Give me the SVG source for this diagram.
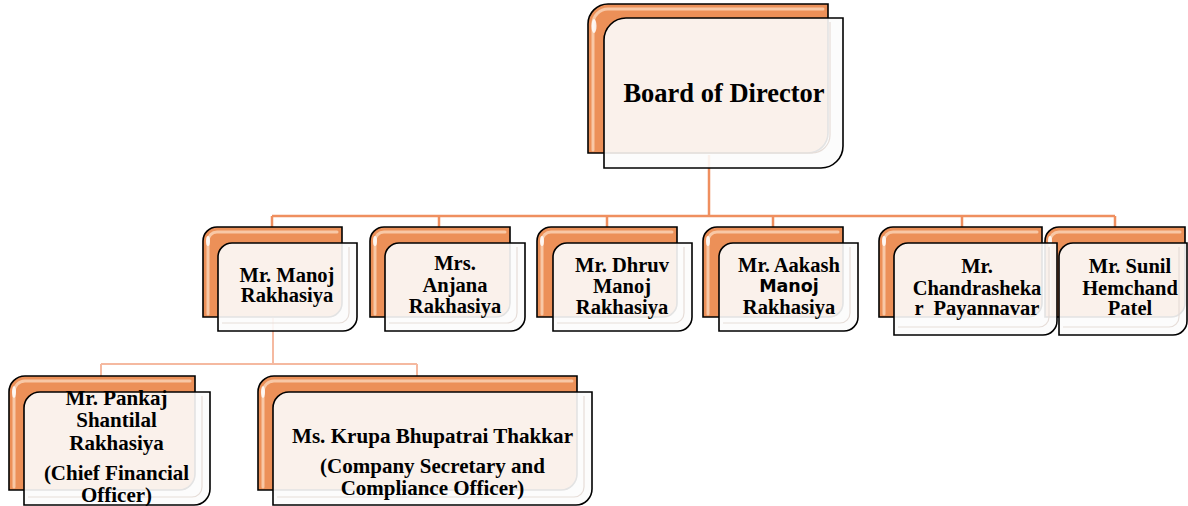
<svg xmlns="http://www.w3.org/2000/svg" width="1188" height="506" viewBox="0 0 1188 506">
<style>
.back{fill:#EC9058;stroke:#000;stroke-width:1.6}
.bhi{fill:none;stroke:#F8C8A6;stroke-width:3;stroke-linecap:round}
.front{fill:#FCFCFC;fill-opacity:0.9;stroke:#000;stroke-width:1.6}
.fhi{fill:none;stroke:#E6DDD8;stroke-width:1.2}
.gloss{fill:#FFFFFF;opacity:0.85}
.t{font-family:"Liberation Serif","Times New Roman",serif;font-weight:bold;font-size:20.5px;text-anchor:middle;fill:#000}
.s{font-size:21px}
.sans{font-family:"DejaVu Sans","Liberation Sans",sans-serif;font-size:17.5px}
.c1{fill:none;stroke:#EF8F5F;stroke-width:2.5}
.c2{fill:none;stroke:#F5B9A0;stroke-width:2}
</style>
<rect width="1188" height="506" fill="#FFFFFF"/>
<g id="connectors">
<path class="c1" d="M709,155 V216 M272,216 H1115 M272,216 V227 M439,216 V227 M607,216 V227 M773,216 V227 M962,216 V227 M1115,216 V227"/>
<path class="c2" d="M273,318 V364 M101,364 H417 M101,364 V376 M417,364 V376"/>
</g>
<g id="board">
<path class="back" d="M588,153 V24 A20,20 0 0 1 608,4 H828 V133 A20,20 0 0 1 808,153 Z"/>
<path class="bhi" d="M593,150 V24 A15,15 0 0 1 608,9 H823"/>
<ellipse class="gloss" cx="594" cy="26" rx="2.5" ry="7"/>
<path class="front" d="M604,168 V40 A22,22 0 0 1 626,18 H843 V146 A22,22 0 0 1 821,168 Z"/>
<path class="fhi" d="M830,22 V135 A18,18 0 0 1 812,153 H610"/>
<text class="t" x="724" y="102" style="font-size:26.5px">Board of Director</text>
</g>
<g id="manoj">
<path class="back" d="M203,317 V241 A14,14 0 0 1 217,227 H342 V303 A14,14 0 0 1 328,317 Z"/>
<path class="bhi" d="M208,314 V241 A9,9 0 0 1 217,232 H337"/>
<ellipse class="gloss" cx="208" cy="241" rx="2" ry="5"/>
<path class="front" d="M218,331 V257 A14,14 0 0 1 232,243 H357 V317 A14,14 0 0 1 343,331 Z"/>
<path class="fhi" d="M349,247 V313 A10,10 0 0 1 339,323 H222"/>
<text class="t" x="287" y="282">Mr. Manoj</text>
<text class="t" x="287" y="302">Rakhasiya</text>
</g>
<g id="anjana">
<path class="back" d="M370,317 V241 A14,14 0 0 1 384,227 H510 V303 A14,14 0 0 1 496,317 Z"/>
<path class="bhi" d="M375,314 V241 A9,9 0 0 1 384,232 H505"/>
<ellipse class="gloss" cx="375" cy="241" rx="2" ry="5"/>
<path class="front" d="M385,331 V257 A14,14 0 0 1 399,243 H525 V317 A14,14 0 0 1 511,331 Z"/>
<path class="fhi" d="M517,247 V313 A10,10 0 0 1 507,323 H389"/>
<text class="t" x="455" y="270">Mrs.</text>
<text class="t" x="455" y="292">Anjana</text>
<text class="t" x="455" y="313">Rakhasiya</text>
</g>
<g id="dhruv">
<path class="back" d="M537,317 V241 A14,14 0 0 1 551,227 H677 V303 A14,14 0 0 1 663,317 Z"/>
<path class="bhi" d="M542,314 V241 A9,9 0 0 1 551,232 H672"/>
<ellipse class="gloss" cx="542" cy="241" rx="2" ry="5"/>
<path class="front" d="M553,331 V257 A14,14 0 0 1 567,243 H692 V317 A14,14 0 0 1 678,331 Z"/>
<path class="fhi" d="M684,247 V313 A10,10 0 0 1 674,323 H557"/>
<text class="t" x="622" y="272">Mr. Dhruv</text>
<text class="t" x="622" y="293">Manoj</text>
<text class="t" x="622" y="314">Rakhasiya</text>
</g>
<g id="aakash">
<path class="back" d="M703,317 V241 A14,14 0 0 1 717,227 H843 V303 A14,14 0 0 1 829,317 Z"/>
<path class="bhi" d="M708,314 V241 A9,9 0 0 1 717,232 H838"/>
<ellipse class="gloss" cx="708" cy="241" rx="2" ry="5"/>
<path class="front" d="M719,331 V257 A14,14 0 0 1 733,243 H858 V317 A14,14 0 0 1 844,331 Z"/>
<path class="fhi" d="M850,247 V313 A10,10 0 0 1 840,323 H723"/>
<text class="t" x="789" y="272">Mr. Aakash</text>
<text class="t sans" x="789" y="292">Manoj</text>
<text class="t" x="789" y="314">Rakhasiya</text>
</g>
<g id="sunil">
<path class="back" d="M1045,317 V241 A14,14 0 0 1 1059,227 H1185 V303 A14,14 0 0 1 1171,317 Z"/>
<path class="bhi" d="M1050,314 V241 A9,9 0 0 1 1059,232 H1180"/>
<ellipse class="gloss" cx="1050" cy="241" rx="2" ry="5"/>
<path class="front" d="M1059,335 V257 A14,14 0 0 1 1073,243 H1187 V321 A14,14 0 0 1 1173,335 Z"/>
<path class="fhi" d="M1179,247 V317 A10,10 0 0 1 1169,327 H1063"/>
<text class="t" x="1130" y="273">Mr. Sunil</text>
<text class="t" x="1130" y="295">Hemchand</text>
<text class="t" x="1130" y="315">Patel</text>
</g>
<g id="chandrashekar">
<path class="back" d="M879,317 V241 A14,14 0 0 1 893,227 H1042 V303 A14,14 0 0 1 1028,317 Z"/>
<path class="bhi" d="M884,314 V241 A9,9 0 0 1 893,232 H1037"/>
<ellipse class="gloss" cx="884" cy="241" rx="2" ry="5"/>
<path class="front" d="M894,335 V257 A14,14 0 0 1 908,243 H1057 V321 A14,14 0 0 1 1043,335 Z"/>
<path class="fhi" d="M1049,247 V317 A10,10 0 0 1 1039,327 H898"/>
<text class="t" x="977" y="273">Mr.</text>
<text class="t" x="977" y="295">Chandrasheka</text>
<text class="t" x="977" y="315" xml:space="preserve">r  Payannavar</text>
</g>
<g id="pankaj">
<path class="back" d="M9,490 V392 A16,16 0 0 1 25,376 H195 V474 A16,16 0 0 1 179,490 Z"/>
<path class="bhi" d="M14,487 V392 A11,11 0 0 1 25,381 H190"/>
<ellipse class="gloss" cx="14" cy="392" rx="2" ry="6"/>
<path class="front" d="M24,505 V408 A16,16 0 0 1 40,392 H210 V489 A16,16 0 0 1 194,505 Z"/>
<path class="fhi" d="M202,396 V487 A10,10 0 0 1 192,497 H28"/>
<text class="t s" x="116.5" y="405">Mr. Pankaj</text>
<text class="t s" x="116.5" y="427">Shantilal</text>
<text class="t s" x="116.5" y="450">Rakhasiya</text>
<text class="t s" x="116.5" y="480">(Chief Financial</text>
<text class="t s" x="116.5" y="502">Officer)</text>
</g>
<g id="krupa">
<path class="back" d="M258,490 V392 A16,16 0 0 1 274,376 H577 V474 A16,16 0 0 1 561,490 Z"/>
<path class="bhi" d="M263,487 V392 A11,11 0 0 1 274,381 H572"/>
<ellipse class="gloss" cx="263" cy="392" rx="2" ry="6"/>
<path class="front" d="M273,505 V408 A16,16 0 0 1 289,392 H592 V489 A16,16 0 0 1 576,505 Z"/>
<path class="fhi" d="M584,396 V487 A10,10 0 0 1 574,497 H277"/>
<text class="t s" x="432.5" y="443" textLength="281" lengthAdjust="spacingAndGlyphs">Ms. Krupa Bhupatrai Thakkar</text>
<text class="t s" x="432.5" y="473">(Company Secretary and</text>
<text class="t s" x="432.5" y="495">Compliance Officer)</text>
</g>
</svg>
